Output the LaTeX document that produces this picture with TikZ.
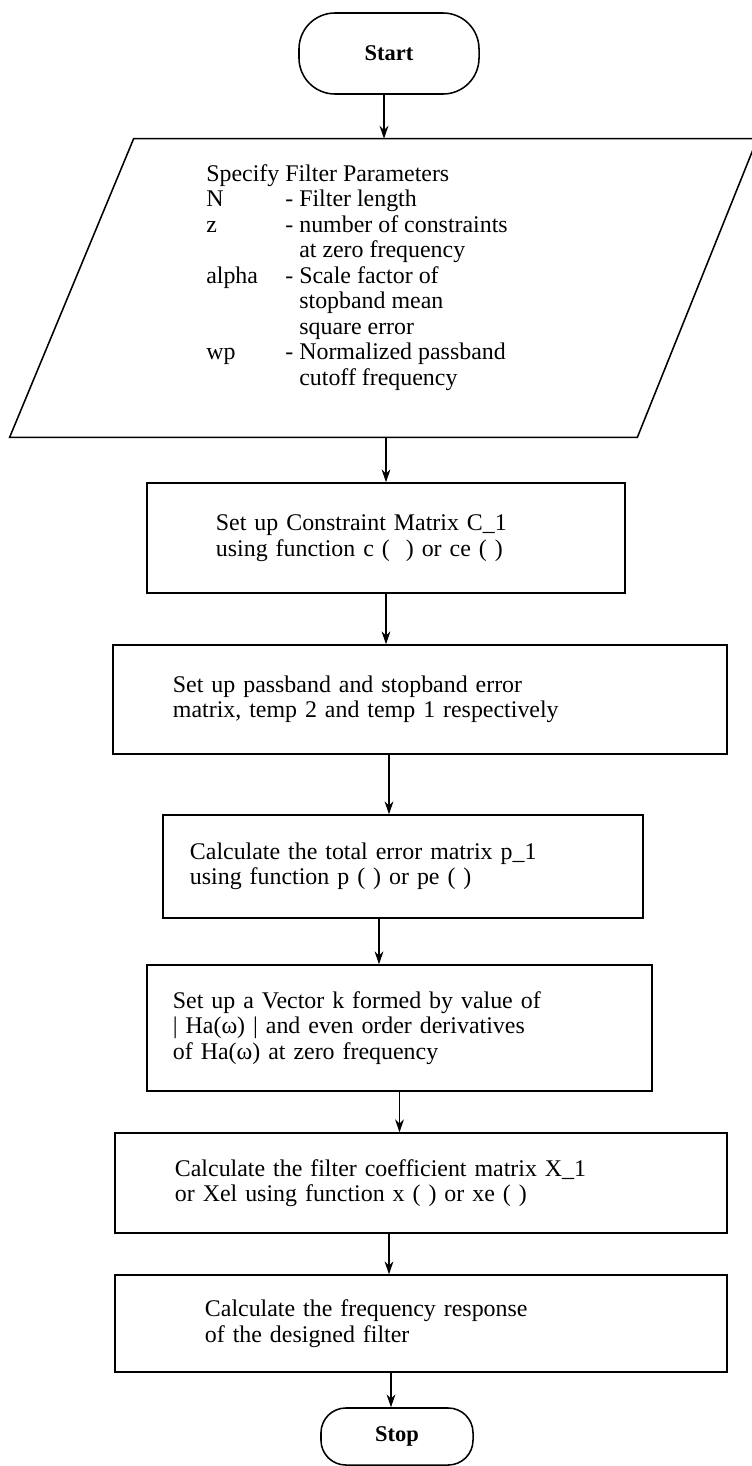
\documentclass[tikz,border=0pt]{standalone}
\usepackage{fontspec}
\setmainfont{Liberation Serif}
\usetikzlibrary{arrows.meta}
\tikzset{
  % Start / Stop terminal
  TB/.style={rectangle,rounded corners=#1,draw,line width=1.1pt,
             font=\fontsize{16}{18}\selectfont\bfseries},
  TB/.default=0.9cm,
  % Process box, left aligned text
  PB/.style={rectangle,draw,line width=1.1pt,align=left,inner sep=0pt,
             text width=#1,font=\fontsize{17}{18.14}\selectfont},
  % Input parallelogram (frame drawn from its corners)
  IO/.style={rectangle,inner sep=0pt},
  IOline/.style={line width=1.1pt,line join=miter},
  Arr/.style={-{Stealth[length=0.32cm,width=0.22cm]},line width=1.1pt},
}

\begin{document}
\begin{tikzpicture}[x=0.025cm,y=-0.025cm]
  \useasboundingbox (0,0) rectangle (751,1466);

  \node[TB,minimum width=4.5cm,minimum height=2.025cm] (start) at (389,53.5) {Start};

  \node[IO,minimum width=18.675cm,minimum height=7.45cm] (params) at (383.5,288) {};
  \draw[IOline] ([xshift=3.1cm]params.north west) -- (params.north east)
        -- ([xshift=-3cm]params.south east) -- (params.south west) -- cycle;
  \node[anchor=base west,inner sep=0pt,font=\fontsize{17}{18.14}\selectfont]
       (ptext) at (206,181)
       {\begin{tabular}[t]{@{}p{1.975cm}@{}p{0.35cm}@{}l@{}}
          \multicolumn{3}{@{}l@{}}{Specify Filter Parameters}\\
          N     & - & Filter length\\
          z     & - & number of constraints\\
                &   & at zero frequency\\
          alpha & - & Scale factor of\\
                &   & stopband mean\\
                &   & square error\\
          wp    & - & Normalized passband\\
                &   & cutoff frequency
        \end{tabular}};

  \node[PB=8.5cm,minimum width=11.95cm,minimum height=2.75cm] (box1) at (386,538)
       {Set up Constraint Matrix C\_1\\using function c (\ \ ) or ce ( )};
  \node[PB=12.35cm,minimum width=15.35cm,minimum height=2.725cm] (box2) at (420,699.5)
       {Set up passband and stopband error\\matrix, temp 2 and temp 1 respectively};
  \node[PB=10.65cm,minimum width=12cm,minimum height=2.575cm] (box3) at (403,866.5)
       {Calculate the total error matrix p\_1\\using function p ( ) or pe ( )};
  \node[PB=11.325cm,minimum width=12.625cm,minimum height=3.15cm] (box4) at (399.5,1028)
       {Set up a Vector k formed by value of\\| Ha(ω) | and even order derivatives\\of Ha(ω) at zero frequency};
  \node[PB=12.3cm,minimum width=15.3cm,minimum height=2.5cm] (box5) at (421,1183)
       {Calculate the filter coefficient matrix X\_1\\or Xel using function x ( ) or xe ( )};
  \node[PB=10.8cm,minimum width=15.3cm,minimum height=2.425cm] (box6) at (421,1323.5)
       {Calculate the frequency response\\of the designed filter};

  \node[TB=0.62cm,minimum width=3.8cm,minimum height=1.425cm] (stop) at (397,1436.5) {Stop};

  % connectors
  \draw[Arr] ([xshift=-0.125cm]start.south) -- ([xshift=-0.125cm]start.south |- params.north);
  \draw[Arr] (box1.north |- params.south) -- (box1.north);
  \draw[Arr] (box1.south) -- (box1.south |- box2.north);
  \draw[Arr] ([xshift=-0.35cm]box3.north |- box2.south) -- ([xshift=-0.35cm]box3.north);
  \draw[Arr] ([xshift=-0.6cm]box3.south) -- ([xshift=-0.6cm]box3.south |- box4.north);
  \draw[Arr] (box4.south) -- (box4.south |- box5.north);
  \draw[Arr] ([xshift=-0.8cm]box5.south) -- ([xshift=-0.8cm]box5.south |- box6.north);
  \draw[Arr] ([xshift=-0.15cm]stop.north |- box6.south) -- ([xshift=-0.15cm]stop.north);
\end{tikzpicture}
\end{document}
